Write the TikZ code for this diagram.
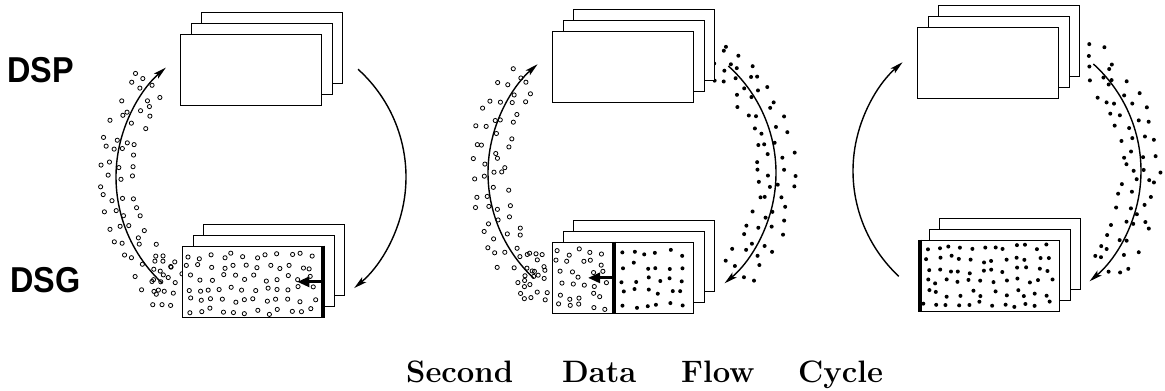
\documentclass[tikz,border=0pt]{standalone}
\usepackage{fontspec}
\newfontfamily\labelfont{Liberation Sans}
\usetikzlibrary{arrows.meta}

\tikzset{
  x=1pt, y=1pt,
  page/.style={draw, line width=1.3pt, fill=white, minimum width=141pt,
    minimum height=71pt, inner sep=0pt, anchor=south west},
  flow/.style={line width=1.4pt, -{Stealth[length=13pt,width=6.5pt,inset=3pt]}},
  ringdot/.style={draw, line width=0.8pt},
  graindot/.style={fill=black},
  push/.style={line width=2.8pt, -{Triangle[length=12pt,width=10pt]}},
  heavyedge/.style={line width=4pt},
  rowlabel/.style={font=\labelfont\bfseries\fontsize{36}{36}\selectfont,
    anchor=base west, inner sep=0pt},
  captionword/.style={font=\bfseries\fontsize{31}{31}\selectfont,
    anchor=base west, inner sep=0pt},
}

% a stack of three sheets; #1 names the front sheet, (#2,#3) is its lower left corner
\newcommand\pagestack[3]{%
  \node[page] (#1-back) at (#2+21,#3+22) {};
  \node[page] (#1-mid)  at (#2+10.5,#3+11) {};
  \node[page] (#1)      at (#2,#3) {};
}

% dots scattered in a band round an arc:
% centre, start, end angle, radii, dots per row, style, dot radius
\newcommand\scatterarc[7]{%
  \foreach \rr in {#4}{%
    \foreach \k in {1,...,#5}{%
      \pgfmathsetmacro\aa{#2+(#3-#2)*(\k-0.5+0.8*(rnd-0.5))/#5}%
      \pgfmathsetmacro\rx{\rr+8*(rnd-0.5)}%
      \path[#6] (#1) ++(\aa:\rx) circle[radius=#7];
    }}}

% dots scattered over a jittered grid:
% x0, y0, columns, rows, x step, y step, style, dot radius
\newcommand\scatterbox[8]{%
  \foreach \i in {1,...,#3}{%
    \foreach \j in {1,...,#4}{%
      \pgfmathsetmacro\px{#1+(\i-1)*#5+7*(rnd-0.5)}%
      \pgfmathsetmacro\py{#2+(\j-1)*#6+7*(rnd-0.5)}%
      \path[#7] (\px,\py) circle[radius=#8];
    }}}

\begin{document}
\begin{tikzpicture}
\pgfmathsetseed{4217}
\useasboundingbox (0,0) rectangle (1165,391);

% cycle centres
\coordinate (c1) at (261,214);
\coordinate (c2) at (632,218);
\coordinate (c3) at (997,220);

% row labels
\node[rowlabel] (dsp) at (7,308) {\scalebox{0.9}[1]{DSP}};
\node[rowlabel] (dsg) at (10,98) {\scalebox{0.9}[1]{DSG}};

% data clouds travelling along the arcs
\scatterarc{c1}{137}{232}{128,139,150,161}{16}{ringdot}{2.1pt}
\scatterbox{153}{88}{3}{5}{10}{11}{ringdot}{2.1pt}
\scatterarc{c2}{137}{232}{128,139,150,161}{16}{ringdot}{2.1pt}
\scatterbox{524}{90}{3}{5}{10}{11}{ringdot}{2.1pt}
\scatterarc{c2}{58}{-44}{127,138,149,160}{17}{graindot}{2.0pt}
\scatterarc{c3}{58}{-44}{127,138,149,160}{17}{graindot}{2.0pt}

% transfer arcs
\draw[flow] (c1) ++(227:145) arc[start angle=227, end angle=131, radius=145];
\draw[flow] (c1) ++(48:145)  arc[start angle=48,  end angle=-50, radius=145];
\draw[flow] (c2) ++(227:144) arc[start angle=227, end angle=131, radius=144];
\draw[flow] (c2) ++(48:144)  arc[start angle=48,  end angle=-50, radius=144];
\draw[flow] (c3) ++(227:144) arc[start angle=227, end angle=131, radius=144];
\draw[flow] (c3) ++(48:144)  arc[start angle=48,  end angle=-50, radius=144];

% sheet stacks
\pagestack{p1top}{180}{285}
\pagestack{p1bot}{182}{73}
\pagestack{p2top}{552}{288}
\pagestack{p2bot}{552}{77}
\pagestack{p3top}{917}{292}
\pagestack{p3bot}{918}{79}

% first cycle: sheet filled with open circles, written from the right
\scatterbox{189}{80}{12}{6}{11.2}{11}{ringdot}{2.1pt}
\draw[heavyedge] ([xshift=-1.5pt]p1bot.north east) -- ([xshift=-1.5pt]p1bot.south east);
\draw[push] ([xshift=-2pt]p1bot.east) -- ([xshift=-27pt]p1bot.east);

% second cycle: split sheet
\coordinate (div-top) at ([xshift=62pt]p2bot.north west);
\coordinate (div-bot) at ([xshift=62pt]p2bot.south west);
\coordinate (div-mid) at ([xshift=62pt]p2bot.west);
\scatterbox{559}{84}{5}{6}{11}{11}{ringdot}{2.1pt}
\scatterbox{622}{86}{6}{5}{12}{13}{graindot}{2.0pt}
\draw[heavyedge, line width=3.5pt] (div-top) -- (div-bot);
\draw[push] ([xshift=-1pt]div-mid) -- ([xshift=-26pt]div-mid);

% third cycle: sheet filled with dots, thick left edge
\scatterbox{926}{86}{12}{6}{11.2}{11.5}{graindot}{2.0pt}
\draw[heavyedge] ([xshift=2pt]p3bot.north west) -- ([xshift=2pt]p3bot.south west);

% caption
\node[captionword] (w1) at (406,9) {Second};
\node[captionword] (w2) at (562,9) {Data};
\node[captionword] (w3) at (681,9) {Flow};
\node[captionword] (w4) at (798,9) {Cycle};
\end{tikzpicture}
\end{document}
